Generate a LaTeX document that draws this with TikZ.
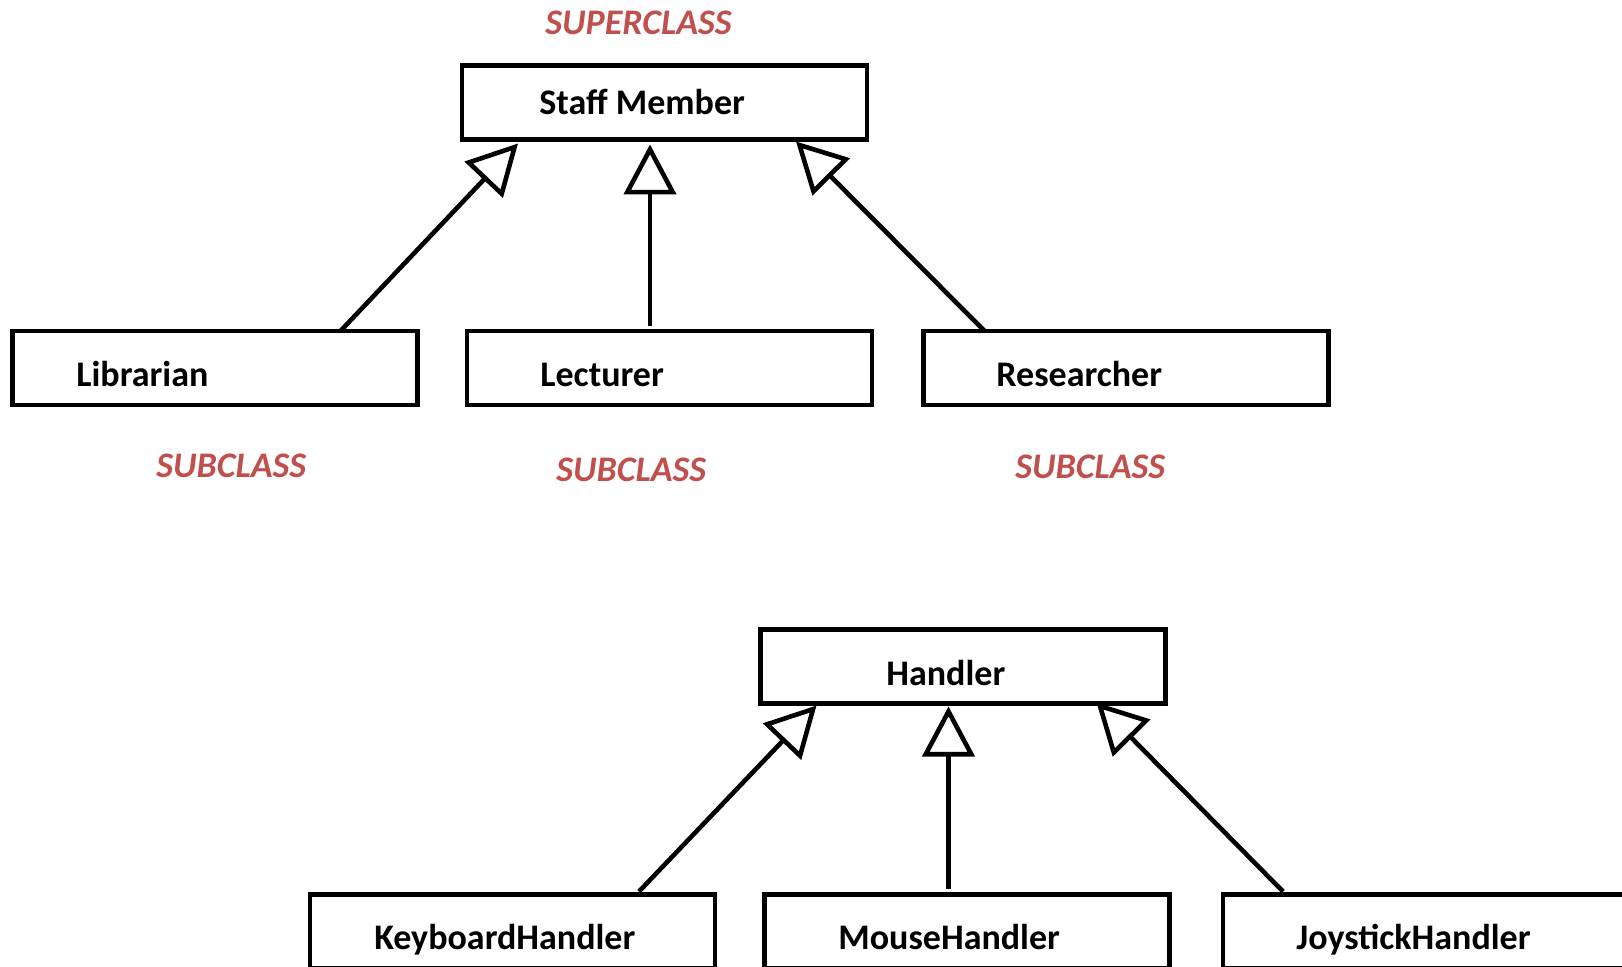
\documentclass[tikz,border=0pt]{standalone}
\usepackage{fontspec}
\setmainfont{Carlito}
\usetikzlibrary{arrows.meta,calc}
\definecolor{labelred}{RGB}{192,80,77}
\begin{document}
\begin{tikzpicture}[x=0.5pt,y=-0.5pt,
  classbox/.style={draw, line width=2.3pt, minimum width=202.5pt, minimum height=37pt, inner sep=0pt, outer sep=0pt},
  classname/.style={anchor=base west, inner sep=0pt, font=\fontsize{18}{21}\selectfont\bfseries},
  rolelabel/.style={anchor=base west, inner sep=0pt, text=labelred, font=\fontsize{18}{21}\selectfont\bfseries\itshape},
  inherits/.style={line width=2.3pt, -{Triangle[open, length=25pt, width=26pt]}}]
\useasboundingbox (0,0) rectangle (1622,967);
\clip (0,0) rectangle (1622,967);

% ---- staff hierarchy ----
\node[classbox] (staff) at (664.5,102.5) {};
\node[classbox] (lib)   at (215,368) {};
\node[classbox] (lect)  at (669.5,368) {};
\node[classbox] (res)   at (1126,368) {};

\node[classname] (staffT) at (539,114.5) {Staff Member};
\node[classname] (libT)   at (76,386.5) {Librarian};
\node[classname] (lectT)  at (540,386.5) {Lecturer};
\node[classname] (resT)   at (996,386.5) {Researcher};

\node[rolelabel] (superT) at (545,35) {SUPERCLASS};
\node[rolelabel] (subA)   at (156,478) {SUBCLASS};
\node[rolelabel] (subB)   at (556,482) {SUBCLASS};
\node[rolelabel] (subC)   at (1015,479) {SUBCLASS};

\coordinate (staffL) at ($(staff.south west)+(56,4)$);
\coordinate (staffM) at ($(staff.south west)+(188,5)$);
\coordinate (staffR) at ($(staff.south west)+(334,2)$);
\coordinate (libTop)  at ($(lib.north west)+(328,0)$);
\coordinate (lectTop) at ($(lect.north west)+(183,-5)$);
\coordinate (resTop)  at ($(res.north west)+(61,0)$);

\draw[inherits] (libTop) -- (staffL);
\draw[inherits] (lectTop) -- (staffM);
\draw[inherits] (resTop) -- (staffR);

% ---- handler hierarchy ----
\node[classbox] (hand)  at (963,666.5) {};
\node[classbox] (kbd)   at (512.5,931.5) {};
\node[classbox] (mouse) at (967,931.5) {};
\node[classbox] (joy)   at (1425.5,931.5) {};

\node[classname] (handT)  at (886,685.5) {Handler};
\node[classname] (kbdT)   at (374,949.5) {KeyboardHandler};
\node[classname] (mouseT) at (838,949.5) {MouseHandler};
\node[classname] (joyT)   at (1296,949.5) {JoystickHandler};

\coordinate (handL) at ($(hand.south west)+(56,2)$);
\coordinate (handM) at ($(hand.south west)+(188,3)$);
\coordinate (handR) at ($(hand.south west)+(336,-1)$);
\coordinate (kbdTop)   at ($(kbd.north west)+(329,-3)$);
\coordinate (mouseTop) at ($(mouse.north west)+(184,-6)$);
\coordinate (joyTop)   at ($(joy.north west)+(60,-3)$);

\draw[inherits] (kbdTop) -- (handL);
\draw[inherits] (mouseTop) -- (handM);
\draw[inherits] (joyTop) -- (handR);
\end{tikzpicture}
\end{document}
